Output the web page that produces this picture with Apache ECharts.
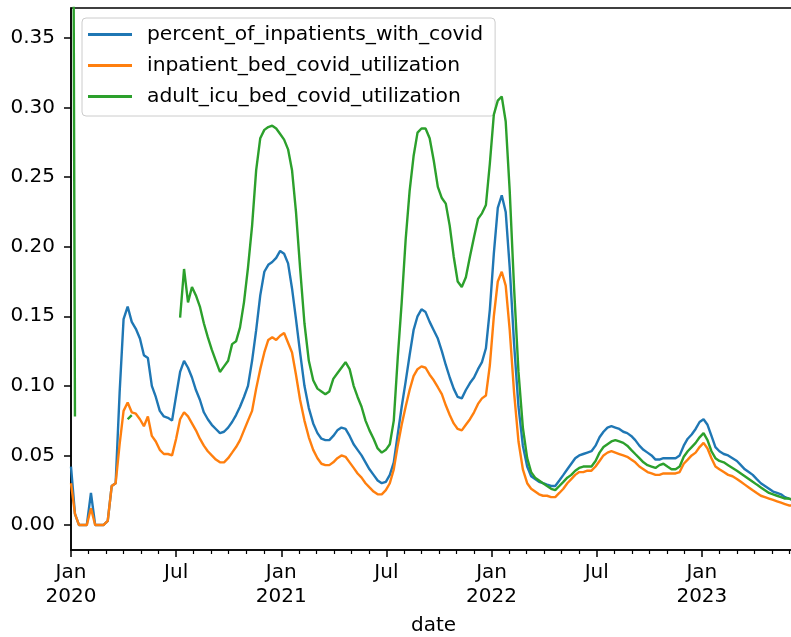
<!DOCTYPE html>
<html>
<head>
<meta charset="utf-8">
<script src="https://cdn.jsdelivr.net/npm/echarts@6/dist/echarts.min.js"></script>
<style>
html,body{margin:0;padding:0;background:#fff;}
#chart{width:791px;height:637px;}
</style>
</head>
<body>
<div id="chart"></div>
<script>
// ---- data (weekly, starting Wednesday 2020-01-01) ----
const firstWeek = '2020-01-01';
const weekCount = 180;
const seriesNames = ['percent_of_inpatients_with_covid', 'inpatient_bed_covid_utilization', 'adult_icu_bed_covid_utilization'];
const seriesColors = ['#1f77b4', '#ff7f0e', '#2ca02c'];

const percentOfInpatientsWithCovid = [
  0.042, 0.008, 0, 0, 0, 0.023, 0, 0, 0, 0.003,
  0.028, 0.030, 0.095, 0.148, 0.157, 0.146, 0.141, 0.134, 0.122, 0.120,
  0.100, 0.092, 0.082, 0.078, 0.077, 0.075, 0.093, 0.110, 0.118, 0.113,
  0.106, 0.097, 0.090, 0.081, 0.076, 0.072, 0.069, 0.066, 0.067, 0.070,
  0.074, 0.079, 0.085, 0.092, 0.100, 0.118, 0.140, 0.165, 0.182, 0.187,
  0.189, 0.192, 0.197, 0.195, 0.188, 0.170, 0.148, 0.124, 0.100, 0.084,
  0.073, 0.066, 0.062, 0.061, 0.061, 0.064, 0.068, 0.070, 0.069, 0.064,
  0.058, 0.054, 0.050, 0.045, 0.040, 0.036, 0.032, 0.030, 0.031, 0.036,
  0.045, 0.065, 0.085, 0.103, 0.122, 0.140, 0.150, 0.155, 0.153, 0.146,
  0.140, 0.134, 0.125, 0.115, 0.106, 0.098, 0.092, 0.091, 0.097, 0.102,
  0.106, 0.112, 0.117, 0.127, 0.155, 0.195, 0.228, 0.237, 0.225, 0.185,
  0.130, 0.085, 0.057, 0.042, 0.035, 0.033, 0.031, 0.030, 0.029, 0.028,
  0.028, 0.032, 0.036, 0.040, 0.044, 0.048, 0.050, 0.051, 0.052, 0.053,
  0.057, 0.063, 0.067, 0.070, 0.071, 0.070, 0.069, 0.067, 0.066, 0.064,
  0.061, 0.057, 0.054, 0.052, 0.050, 0.047, 0.047, 0.048, 0.048, 0.048,
  0.048, 0.050, 0.057, 0.062, 0.065, 0.069, 0.074, 0.076, 0.072, 0.064,
  0.056, 0.053, 0.051, 0.050, 0.048, 0.046, 0.043, 0.040, 0.038, 0.036,
  0.033, 0.030, 0.028, 0.026, 0.024, 0.023, 0.022, 0.020, 0.019, 0.018
];

const inpatientBedCovidUtilization = [
  0.030, 0.008, 0, 0, 0, 0.012, 0, 0, 0, 0.003,
  0.028, 0.030, 0.058, 0.082, 0.088, 0.081, 0.080, 0.076, 0.071, 0.078,
  0.064, 0.060, 0.054, 0.051, 0.051, 0.050, 0.062, 0.076, 0.081, 0.078,
  0.073, 0.068, 0.062, 0.057, 0.053, 0.050, 0.047, 0.045, 0.045, 0.048,
  0.052, 0.056, 0.061, 0.068, 0.075, 0.082, 0.098, 0.112, 0.124, 0.133,
  0.135, 0.133, 0.136, 0.138, 0.131, 0.124, 0.108, 0.090, 0.075, 0.063,
  0.054, 0.048, 0.044, 0.043, 0.043, 0.045, 0.048, 0.050, 0.049, 0.045,
  0.041, 0.037, 0.034, 0.030, 0.027, 0.024, 0.022, 0.022, 0.025, 0.030,
  0.040, 0.057, 0.072, 0.085, 0.097, 0.107, 0.112, 0.114, 0.113, 0.108,
  0.104, 0.099, 0.094, 0.086, 0.079, 0.073, 0.069, 0.068, 0.072, 0.076,
  0.081, 0.087, 0.091, 0.093, 0.115, 0.150, 0.175, 0.182, 0.172, 0.140,
  0.095, 0.060, 0.040, 0.030, 0.026, 0.024, 0.022, 0.021, 0.021, 0.020,
  0.020, 0.023, 0.026, 0.030, 0.033, 0.036, 0.038, 0.038, 0.039, 0.039,
  0.042, 0.046, 0.050, 0.052, 0.053, 0.052, 0.051, 0.050, 0.049, 0.047,
  0.045, 0.042, 0.040, 0.038, 0.037, 0.036, 0.036, 0.037, 0.037, 0.037,
  0.037, 0.038, 0.044, 0.047, 0.050, 0.052, 0.056, 0.059, 0.055, 0.048,
  0.042, 0.040, 0.038, 0.036, 0.035, 0.033, 0.031, 0.029, 0.027, 0.025,
  0.023, 0.021, 0.020, 0.019, 0.018, 0.017, 0.016, 0.015, 0.014, 0.014
];

const adultIcuBedCovidUtilization = [
  1.000, 0.078, null, null, null, null, null, null, null, null,
  null, null, null, null, 0.076, 0.079, null, null, null, null,
  null, null, null, null, null, null, null, 0.149, 0.184, 0.160,
  0.171, 0.165, 0.157, 0.145, 0.135, 0.126, 0.118, 0.110, 0.114, 0.118,
  0.130, 0.132, 0.142, 0.160, 0.185, 0.215, 0.255, 0.278, 0.284, 0.286,
  0.287, 0.285, 0.281, 0.277, 0.270, 0.255, 0.225, 0.185, 0.145, 0.118,
  0.104, 0.098, 0.096, 0.094, 0.096, 0.105, 0.109, 0.113, 0.117, 0.112,
  0.100, 0.092, 0.085, 0.075, 0.068, 0.062, 0.055, 0.052, 0.054, 0.058,
  0.075, 0.120, 0.160, 0.205, 0.240, 0.265, 0.282, 0.285, 0.285, 0.278,
  0.262, 0.243, 0.235, 0.231, 0.215, 0.193, 0.175, 0.171, 0.178, 0.193,
  0.207, 0.220, 0.224, 0.230, 0.260, 0.295, 0.305, 0.308, 0.290, 0.240,
  0.170, 0.110, 0.070, 0.048, 0.038, 0.034, 0.032, 0.030, 0.028, 0.026,
  0.025, 0.028, 0.031, 0.034, 0.036, 0.039, 0.041, 0.042, 0.042, 0.042,
  0.046, 0.052, 0.056, 0.058, 0.060, 0.061, 0.060, 0.059, 0.057, 0.054,
  0.051, 0.048, 0.045, 0.043, 0.042, 0.041, 0.043, 0.044, 0.042, 0.040,
  0.040, 0.042, 0.049, 0.053, 0.056, 0.059, 0.063, 0.066, 0.061, 0.053,
  0.048, 0.046, 0.045, 0.043, 0.041, 0.039, 0.037, 0.035, 0.033, 0.031,
  0.029, 0.027, 0.025, 0.023, 0.022, 0.021, 0.020, 0.019, 0.019, 0.018
];

const yTickValues = [0, 0.05, 0.10, 0.15, 0.20, 0.25, 0.30, 0.35];
const xMajorLabels = { 0: 'Jan', 6: 'Jul' };
const baseYear = 2020;

// ---- helpers ----
function weeklyDates(start, n) {
  const p = start.split('-').map(Number);
  const out = [];
  for (let i = 0; i < n; i++) out.push(new Date(Date.UTC(p[0], p[1] - 1, p[2] + 7 * i)));
  return out;
}
// months elapsed since Jan of baseYear (month-start ticks land on integers)
function monthPosition(d) {
  const y = d.getUTCFullYear(), m = d.getUTCMonth(), day = d.getUTCDate();
  const dim = new Date(Date.UTC(y, m + 1, 0)).getUTCDate();
  return (y - baseYear) * 12 + m + (day - 1) / dim;
}
const dates = weeklyDates(firstWeek, weekCount);
const xs = dates.map(monthPosition);
const toPairs = vals => vals.map((v, i) => [xs[i], v === null ? null : v]);
const allSeries = [percentOfInpatientsWithCovid, inpatientBedCovidUtilization, adultIcuBedCovidUtilization];

const FONT = 'DejaVu Sans';
const chart = echarts.init(document.getElementById('chart'), null, { renderer: 'canvas' });
chart.setOption({
  animation: false,
  backgroundColor: '#ffffff',
  grid: {
    left: 71, top: 8, right: -16, bottom: 87,
    show: true, borderColor: '#000', borderWidth: 1.5, backgroundColor: 'transparent',
    containLabel: false, outerBoundsMode: 'none'
  },
  xAxis: {
    type: 'value', min: 0, max: 42, interval: 6,
    axisLine: { show: true, onZero: false, lineStyle: { color: '#000', width: 1.5 } },
    axisTick: { show: true, length: 7, lineStyle: { color: '#000', width: 1.5 } },
    minorTick: { show: true, splitNumber: 6, length: 4, lineStyle: { color: '#000', width: 1.2 } },
    splitLine: { show: false },
    minorSplitLine: { show: false },
    axisLabel: {
      show: true, margin: 11, fontFamily: FONT, fontSize: 20, color: '#000', lineHeight: 24,
      formatter: function (v) {
        const m = Math.round(v);
        if (Math.abs(v - m) > 1e-6) return '';
        const mo = ((m % 12) + 12) % 12;
        if (mo === 0) return xMajorLabels[0] + '\n' + (baseYear + m / 12);
        if (mo === 6) return xMajorLabels[6];
        return '';
      }
    }
  },
  yAxis: {
    type: 'value', min: -0.018, max: 0.3716,
    axisLine: { show: true, onZero: false, lineStyle: { color: '#000', width: 1.5 } },
    axisTick: { show: true, length: 7, customValues: yTickValues, lineStyle: { color: '#000', width: 1.5 } },
    splitLine: { show: false },
    axisLabel: {
      show: true, margin: 16, fontFamily: FONT, fontSize: 20, color: '#000',
      customValues: yTickValues,
      formatter: v => v.toFixed(2)
    }
  },
  legend: {
    orient: 'vertical', left: 82, top: 18,
    icon: 'rect', itemWidth: 44, itemHeight: 3, itemGap: 10,
    padding: [6, 12, 9, 6],
    backgroundColor: 'rgba(255,255,255,0.8)', borderColor: '#cccccc', borderWidth: 1, borderRadius: 4,
    selectedMode: false,
    textStyle: { fontFamily: FONT, fontSize: 20.3, color: '#000', lineHeight: 21, padding: [0, 0, 0, 10] },
    data: seriesNames
  },
  graphic: [{
    type: 'text', left: 433 - 22, top: 616,
    style: { text: 'date', font: '20px "DejaVu Sans"', fill: '#000' }
  }],
  series: allSeries.map((vals, i) => ({
    name: seriesNames[i],
    type: 'line',
    data: toPairs(vals),
    showSymbol: false, symbol: 'none',
    connectNulls: false, clip: true,
    color: seriesColors[i],
    itemStyle: { color: seriesColors[i] },
    lineStyle: { color: seriesColors[i], width: 2.4 },
    z: 2 + i
  }))
});
</script>
</body>
</html>
